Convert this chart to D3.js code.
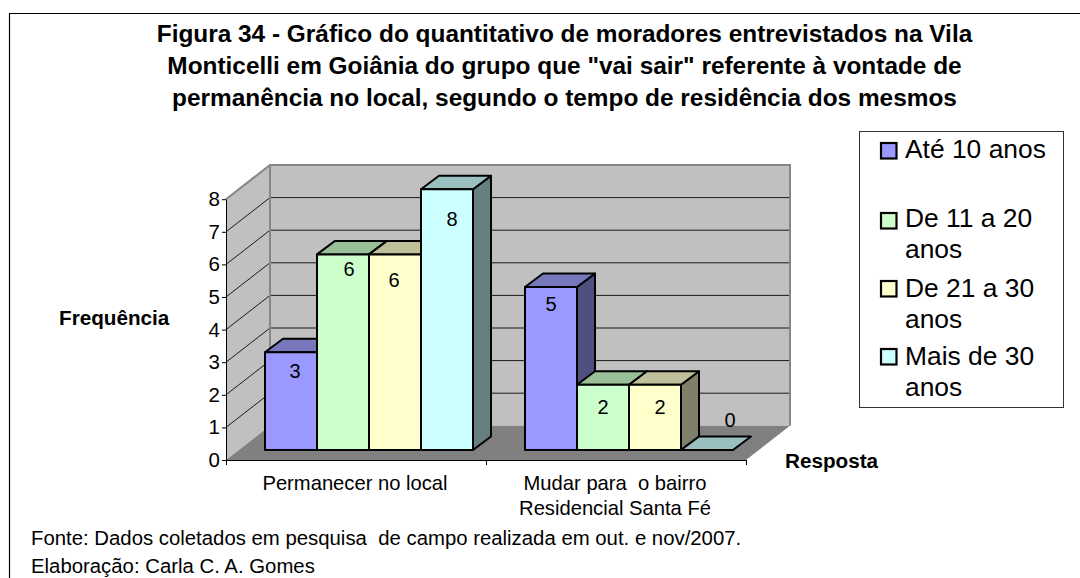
<!DOCTYPE html>
<html><head><meta charset="utf-8">
<script src="https://cdn.jsdelivr.net/npm/d3@7"></script>
<style>html,body{margin:0;padding:0;background:#fff}svg{display:block}text{font-family:"Liberation Sans",Arial,sans-serif;fill:#000;white-space:pre}</style>
</head><body><svg id="c" width="1080" height="578"></svg>
<script>
const categories=["Permanecer no local","Mudar para  o bairro|Residencial Santa Fé"];
const seriesNames=["Até 10 anos","De 11 a 20 anos","De 21 a 30 anos","Mais de 30 anos"];
const ate10=[3,5];
const de11a20=[6,2];
const de21a30=[6,2];
const mais30=[8,0];
const yTicks=[0,1,2,3,4,5,6,7,8];
const titleLines=["Figura 34 - Gráfico do quantitativo de moradores entrevistados na Vila","Monticelli em Goiânia do grupo que \"vai sair\" referente à vontade de","permanência no local, segundo o tempo de residência dos mesmos"];
const footer=["Fonte: Dados coletados em pesquisa  de campo realizada em out. e nov/2007.","Elaboração: Carla C. A. Gomes"];

const frontColors=["#9999ff","#ccffcc","#ffffcc","#ccffff"];
const topColors=["#7777bb","#99bf99","#bfbf99","#99bfbf"];
const sideColors=["#505080","#6a806a","#80806a","#668080"];
const series=[ate10,de11a20,de21a30,mais30];

const svg=d3.select("#c");
const y=d3.scaleLinear().domain([0,8]).range([460,199.2]);
const x=d3.scaleBand().domain(categories).range([226,746]);
const wallDx=44,wallDy=-34.2;
const barDx=18,barDy=-13.5,barBase=-10,barW=52,barInset=39;
const poly=(pts,fill,stroke,sw)=>svg.append("polygon").attr("points",pts.map(p=>p.join(",")).join(" ")).attr("fill",fill).attr("stroke",stroke||"none").attr("stroke-width",sw||0).attr("stroke-linejoin","round");

// outer border
svg.append("path").attr("d","M9.5,578V13.5H1080").attr("fill","none").attr("stroke","#000").attr("stroke-width",1.2);

// title
svg.append("g").selectAll("text").data(titleLines).join("text").attr("x",564.5).attr("y",(d,i)=>41.5+i*32).attr("text-anchor","middle").attr("font-weight","bold").attr("font-size",24.4).text(d=>d);

// walls and floor
const y0=y(0),y8=y(8),xL=x.range()[0],xR=x.range()[1];
poly([[xL,y0],[xL+wallDx,y0+wallDy],[xL+wallDx,y8+wallDy],[xL,y8]],"#c0c0c0");
poly([[xL+wallDx,y0+wallDy],[xR+wallDx,y0+wallDy],[xR+wallDx,y8+wallDy],[xL+wallDx,y8+wallDy]],"#c0c0c0");
poly([[xL,y0],[xR,y0],[xR+wallDx,y0+wallDy],[xL+wallDx,y0+wallDy]],"#808080");
// gridlines
yTicks.filter(v=>v>0&&v<8).forEach(v=>{
  svg.append("path").attr("d",`M${xL},${y(v)}L${xL+wallDx},${y(v)+wallDy}H${xR+wallDx}`).attr("fill","none").attr("stroke","#1a1a1a").attr("stroke-width",1);
});
// wall edges
svg.append("path").attr("d",`M${xL},${y8}L${xL+wallDx},${y8+wallDy}H${xR+wallDx}V${y0+wallDy}`).attr("fill","none").attr("stroke","#868686").attr("stroke-width",2);
svg.append("path").attr("d",`M${xL+wallDx},${y8+wallDy}V${y0+wallDy}`).attr("fill","none").attr("stroke","#868686").attr("stroke-width",2);

// bars
const bars=svg.append("g").attr("stroke","#000").attr("stroke-width",2).attr("stroke-linejoin","round");
categories.forEach((c,ci)=>{
  series.forEach((s,si)=>{
    const v=s[ci],l=x(c)+barInset+si*barW,r=l+barW,b=y0+barBase,t=y(v)+barBase;
    const pg=(pts,f)=>bars.append("polygon").attr("points",pts.map(p=>p.join(",")).join(" ")).attr("fill",f);
    if(v>0) pg([[r,b],[r+barDx,b+barDy],[r+barDx,t+barDy],[r,t]],sideColors[si]);
    pg([[l,t],[r,t],[r+barDx,t+barDy],[l+barDx,t+barDy]],topColors[si]);
    if(v>0) pg([[l,b],[r,b],[r,t],[l,t]],frontColors[si]);
  });
});

// axes
const ax=svg.append("g").attr("transform",`translate(${xL},0)`).call(d3.axisLeft(y).tickValues(yTicks).tickSize(4).tickPadding(2).tickSizeOuter(0));
ax.selectAll("text").attr("font-size",20.5).attr("font-family","Liberation Sans").attr("dy","0.32em");
ax.selectAll("line,path").attr("stroke","#000");
const bx=svg.append("g").attr("transform",`translate(0,${y0})`).call(d3.axisBottom(x).tickValues([]).tickSizeOuter(0));
bx.select("path").attr("stroke","#000");
[xL,x(categories[1]),xR].forEach(t=>svg.append("line").attr("x1",t+.5).attr("x2",t+.5).attr("y1",y0).attr("y2",y0+5).attr("stroke","#000"));
categories.forEach(c=>{
  c.split("|").forEach((ln,i)=>svg.append("text").attr("x",x(c)+x.bandwidth()/2-1).attr("y",490+i*25).attr("text-anchor","middle").attr("font-size",20.2).text(ln));
});

// value labels (hand-placed nudges as Excel placed them)
const nudgeX=[[4,6,-1,5],[0,0,5,23]], nudgeY=[[19,15,26,30],[17,22,22,-30]];
categories.forEach((c,ci)=>{
  series.forEach((s,si)=>{
    const v=s[ci],cx=x(c)+barInset+si*barW+barW/2+nudgeX[ci][si],ty=y(v)+barBase+nudgeY[ci][si];
    svg.append("text").attr("x",cx).attr("y",ty+7).attr("text-anchor","middle").attr("font-size",20).text(v);
  });
});

// axis titles
svg.append("text").attr("x",59).attr("y",325).attr("font-weight","bold").attr("font-size",20.7).text("Frequência");
svg.append("text").attr("x",785).attr("y",468).attr("font-weight","bold").attr("font-size",20.7).text("Resposta");

// legend
svg.append("rect").attr("x",859.5).attr("y",131.5).attr("width",204).attr("height",276).attr("fill","#fff").attr("stroke","#333").attr("stroke-width",1);
const legendSwatchY=[143,213,281,349];
const legendLines=[["Até 10 anos"],["De 11 a 20","anos"],["De 21 a 30","anos"],["Mais de 30","anos"]];
const legendBase=[[158],[227,258],[297,328],[365,396]];
seriesNames.forEach((n,i)=>{
  svg.append("rect").attr("x",881).attr("y",legendSwatchY[i]).attr("width",15.5).attr("height",15.5).attr("fill",frontColors[i]).attr("stroke","#000").attr("stroke-width",2.2);
  legendLines[i].forEach((ln,j)=>svg.append("text").attr("x",905).attr("y",legendBase[i][j]).attr("font-size",26.4).text(ln));
});

// footer
svg.append("g").selectAll("text").data(footer).join("text").attr("x",31).attr("y",(d,i)=>545+i*28).attr("font-size",20.35).text(d=>d);
</script></body></html>
